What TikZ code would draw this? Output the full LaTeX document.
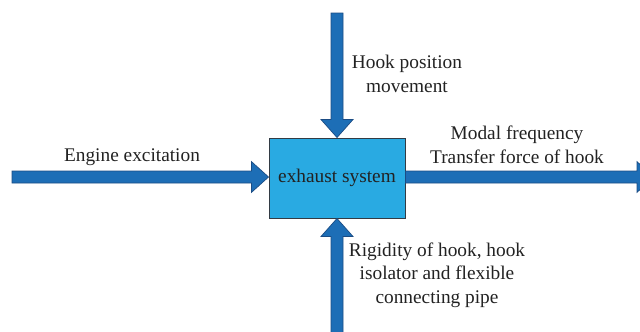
\documentclass[tikz,border=0pt]{standalone}
\usepackage{fontspec}
\setmainfont{Liberation Serif}
\usetikzlibrary{calc}

\definecolor{arrowblue}{HTML}{1D6EB6}
\definecolor{arrowedge}{HTML}{1B4C84}
\definecolor{boxblue}{HTML}{29AAE2}
\definecolor{boxedge}{HTML}{333B44}
\definecolor{labelgray}{HTML}{222222}

% block arrow along x: #1 tail, #2 tip
\newcommand{\harrow}[2]{%
  \coordinate (hb) at ($(#2)!0.51cm!(#1)$);
  \filldraw[barrow] ([yshift=0.18cm]#1) -- ([yshift=0.18cm]hb) -- ([yshift=0.46cm]hb)
    -- (#2) -- ([yshift=-0.46cm]hb) -- ([yshift=-0.18cm]hb) -- ([yshift=-0.18cm]#1) -- cycle;}

% block arrow along y: #1 tail, #2 tip
\newcommand{\varrow}[2]{%
  \coordinate (vb) at ($(#2)!0.54cm!(#1)$);
  \filldraw[barrow] ([xshift=0.18cm]#1) -- ([xshift=0.18cm]vb) -- ([xshift=0.48cm]vb)
    -- (#2) -- ([xshift=-0.48cm]vb) -- ([xshift=-0.18cm]vb) -- ([xshift=-0.18cm]#1) -- cycle;}

\begin{document}
\begin{tikzpicture}[x=0.03cm, y=-0.03cm]

    \tikzset{barrow/.style={%
      fill=arrowblue,%
      draw=arrowedge,%
      line width=0.6pt}%
    };

    \tikzset{sysbox/.style={%
      draw=boxedge,%
      fill=boxblue,%
      line width=0.8pt,%
      minimum width=4.08cm,%
      minimum height=2.4cm,%
      text=labelgray,%
      font=\fontsize{16.5}{20}\selectfont}%
    };

    \tikzset{lbl/.style={align=center, text=labelgray, font=\fontsize{16.5}{20}\selectfont}};

    \useasboundingbox (0, 0) rectangle (640, 331);

    %%%%%%%%%%%%%%
    % the system %
    %%%%%%%%%%%%%%
    \node [sysbox] (exh) at (337, 178) {exhaust system};

    %%%%%%%%%%
    % inputs %
    %%%%%%%%%%
    \path (337, 13) coordinate (hooktail);
    \path (12, 177) coordinate (enginetail);
    \path (337, 345) coordinate (rigidtail);
    \path (exh.east |- enginetail) coordinate (outtail);
    \path (654, 177) coordinate (outtip);

    \varrow{hooktail}{exh.north}
    \harrow{enginetail}{exh.west |- enginetail}
    \varrow{rigidtail}{exh.south}
    \harrow{outtail}{outtip}

    %%%%%%%%%%
    % labels %
    %%%%%%%%%%
    \node [lbl] (hooklbl) at (407, 74) {Hook position\\movement};
    \node [lbl] (enginelbl) at (132, 157) {Engine excitation};
    \node [lbl] (outlbl) at (517, 145) {Modal frequency\\Transfer force of hook};
    \node [lbl] (rigidlbl) at (437, 275) {Rigidity of hook, hook\\isolator and flexible\\connecting pipe};

  \end{tikzpicture}
\end{document}
